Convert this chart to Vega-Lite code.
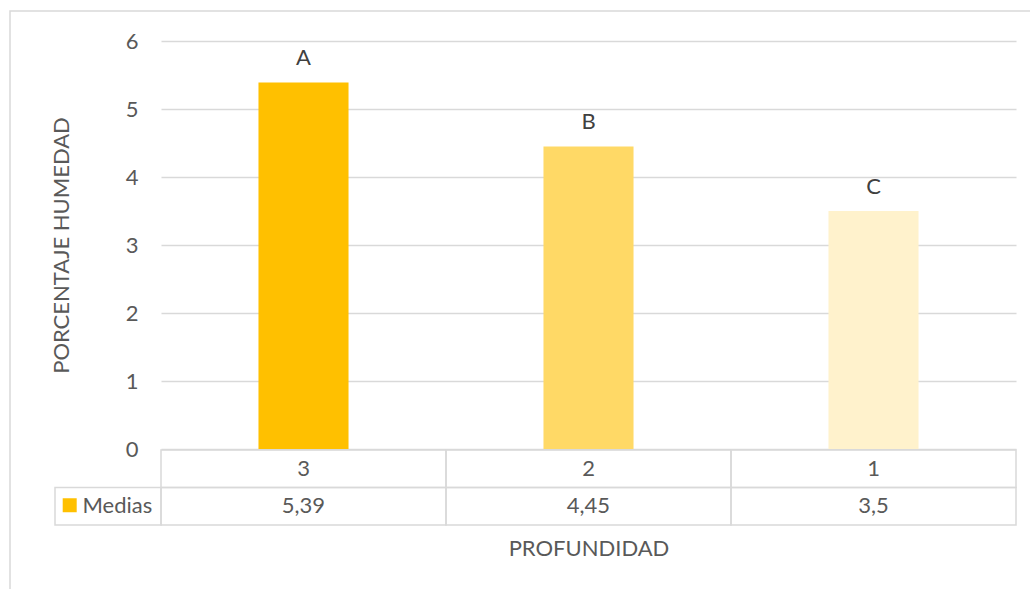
{
  "$schema": "https://vega.github.io/schema/vega-lite/v6.json",
  "width": 1040,
  "height": 600,
  "autosize": {"type": "none"},
  "padding": {"left": 10, "top": 11, "right": -20, "bottom": -22},
  "background": "white",
  "config": {
    "font": "Lato",
    "locale": {"number": {"decimal": ",", "thousands": ".", "grouping": [3], "currency": ["", " €"]}},
    "view": {"stroke": "#d9d9d9", "strokeWidth": 1.5},
    "axis": {
      "labelFont": "Lato", "titleFont": "Lato",
      "labelColor": "#595959", "titleColor": "#595959",
      "labelFontSize": 22, "titleFontSize": 22, "titleFontWeight": "normal"
    }
  },
  "datasets": {
    "medias": [
      {"prof": "3", "media": 5.39, "letra": "A"},
      {"prof": "2", "media": 4.45, "letra": "B"},
      {"prof": "1", "media": 3.5, "letra": "C"}
    ],
    "serie": [{"serie": "Medias"}]
  },
  "resolve": {"scale": {"x": "independent", "y": "independent"}},
  "layer": [
    {
      "data": {"name": "medias"},
      "encoding": {
        "x": {"field": "prof", "type": "nominal", "sort": ["3", "2", "1"],
          "scale": {"domain": ["3", "2", "1"], "range": [151, 1006], "paddingInner": 0, "paddingOuter": 0},
          "axis": null},
        "y": {"field": "media", "type": "quantitative",
          "scale": {"domain": [0, 6], "range": [438, 30], "nice": false, "zero": true},
          "axis": {"orient": "left", "offset": -151, "ticks": false, "domain": false, "grid": true,
            "gridColor": "#d9d9d9", "gridWidth": 1.3, "values": [0, 1, 2, 3, 4, 5, 6],
            "labelPadding": 23, "title": "PORCENTAJE HUMEDAD", "titlePadding": 57, "titleBaseline": "alphabetic"}}
      },
      "layer": [
        {"mark": {"type": "bar", "width": {"band": 0.316}},
         "encoding": {"color": {"field": "prof", "type": "nominal",
           "scale": {"domain": ["3", "2", "1"], "range": ["#FFC000", "#FFD966", "#FFF2CC"]}, "legend": null}}},
        {"mark": {"type": "text", "baseline": "alphabetic", "dy": -17, "fontSize": 22, "fill": "#404040"},
         "encoding": {"text": {"field": "letra"}}}
      ]
    },
    {
      "data": {"name": "medias"},
      "encoding": {
        "x": {"field": "prof", "type": "nominal", "sort": ["3", "2", "1"],
          "scale": {"domain": ["3", "2", "1"], "range": [151, 1006], "paddingInner": 0, "paddingOuter": 0},
          "axis": {"orient": "bottom", "offset": -86, "labels": false, "ticks": false, "domain": false, "grid": false,
            "title": "PROFUNDIDAD", "titlePadding": 30, "titleBaseline": "alphabetic"}}
      },
      "layer": [
        {"mark": {"type": "rect", "fill": "white", "fillOpacity": 0, "stroke": "#d9d9d9", "strokeWidth": 1.5},
         "encoding": {"y": {"datum": "cat", "type": "nominal",
           "scale": {"domain": ["cat", "val"], "range": [439, 514], "paddingInner": 0, "paddingOuter": 0}, "axis": null}}},
        {"mark": {"type": "rect", "fill": "white", "fillOpacity": 0, "stroke": "#d9d9d9", "strokeWidth": 1.5},
         "encoding": {"y": {"datum": "val", "type": "nominal",
           "scale": {"domain": ["cat", "val"], "range": [439, 514], "paddingInner": 0, "paddingOuter": 0}, "axis": null}}},
        {"mark": {"type": "text", "baseline": "middle", "fontSize": 22, "fill": "#595959"},
         "encoding": {"y": {"datum": "cat", "type": "nominal",
           "scale": {"domain": ["cat", "val"], "range": [439, 514], "paddingInner": 0, "paddingOuter": 0}, "axis": null},
           "text": {"field": "prof"}}},
        {"mark": {"type": "text", "baseline": "middle", "fontSize": 22, "fill": "#595959"},
         "encoding": {"y": {"datum": "val", "type": "nominal",
           "scale": {"domain": ["cat", "val"], "range": [439, 514], "paddingInner": 0, "paddingOuter": 0}, "axis": null},
           "text": {"field": "media", "type": "quantitative", "format": "~g"}}}
      ]
    },
    {
      "data": {"name": "serie"},
      "encoding": {
        "x": {"field": "serie", "type": "nominal",
          "scale": {"domain": ["Medias"], "range": [45, 151], "paddingInner": 0, "paddingOuter": 0}, "axis": null},
        "y": {"datum": "val", "type": "nominal",
          "scale": {"domain": ["cat", "val"], "range": [439, 514], "paddingInner": 0, "paddingOuter": 0}, "axis": null}
      },
      "layer": [
        {"mark": {"type": "rect", "fill": "white", "fillOpacity": 0, "stroke": "#d9d9d9", "strokeWidth": 1.5}},
        {"mark": {"type": "square", "size": 196, "xOffset": -38.3, "yOffset": -1, "fill": "#FFC000", "opacity": 1}},
        {"mark": {"type": "text", "align": "left", "baseline": "middle", "xOffset": -25.5, "fontSize": 22, "fill": "#595959"},
         "encoding": {"text": {"field": "serie"}}}
      ]
    }
  ]
}
